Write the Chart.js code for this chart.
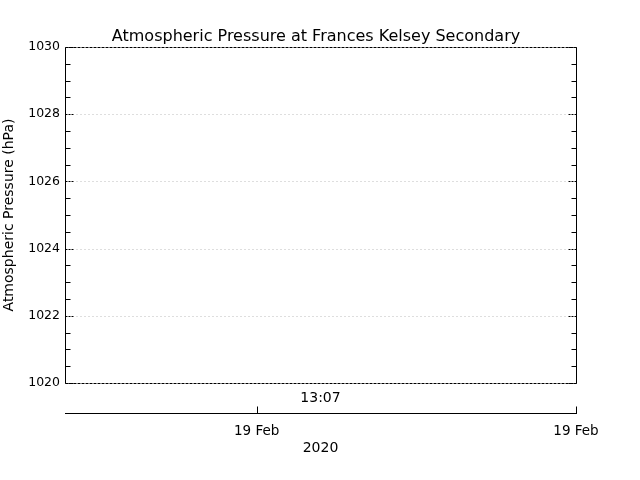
<!DOCTYPE html>
<html>
<head>
<meta charset="utf-8">
<title>Atmospheric Pressure</title>
<script src="https://cdn.jsdelivr.net/npm/chart.js@4.4.1/dist/chart.umd.min.js"></script>
<style>
  html, body { margin: 0; padding: 0; background: #fff; }
  canvas { display: block; }
</style>
</head>
<body>
<canvas id="pressureChart" width="640" height="480"></canvas>
<script>
// Data (the reference plot has no measurements in its window)
const times = [];          // hours relative to 19 Feb 00:00
const pressure = [];       // hPa

// Axis ranges / ticks
const yMin = 1020;
const yMax = 1030;
const yStep = 2;
const yMinorStep = 0.5;
const timeMin = -14.4;
const timeMax = 24;
const dayTicks = [0, 24];
const dayLabels = ['19 Feb', '19 Feb'];
const startLabel = '13:07';
const yearLabel = '2020';

const FONT = 'DejaVu Sans';

// IDL-style frame: dashed top/bottom, ticks inside, dotted grid
const framePlugin = {
    id: 'frame',
    afterDraw(chart) {
        const ctx = chart.ctx;
        const area = chart.chartArea;
        const y = chart.scales.y;
        const x2 = chart.scales.x2;
        const L = Math.round(area.left) + 0.5;
        const R = Math.round(area.right) + 0.5;
        const T = Math.round(area.top) + 0.5;
        const B = Math.round(area.bottom) + 0.5;
        ctx.save();
        ctx.lineWidth = 1;

        // dotted grid lines
        ctx.strokeStyle = '#bdbdbd';
        ctx.setLineDash([1, 3]);
        y.ticks.forEach(t => {
            if (t.value === yMin || t.value === yMax) return;
            const py = Math.round(y.getPixelForValue(t.value)) + 0.5;
            ctx.beginPath();
            ctx.moveTo(L + 11, py);
            ctx.lineTo(R - 9, py);
            ctx.stroke();
        });

        // box
        ctx.strokeStyle = '#000';
        ctx.setLineDash([3, 1]);
        ctx.beginPath();
        ctx.moveTo(L, T); ctx.lineTo(R, T);
        ctx.moveTo(L, B); ctx.lineTo(R, B);
        ctx.stroke();
        ctx.setLineDash([]);
        ctx.beginPath();
        ctx.moveTo(L, T); ctx.lineTo(L, B);
        ctx.moveTo(R, T); ctx.lineTo(R, B);
        ctx.stroke();

        // major ticks (dashed)
        ctx.setLineDash([2, 1]);
        ctx.beginPath();
        y.ticks.forEach(t => {
            const py = Math.round(y.getPixelForValue(t.value)) + 0.5;
            ctx.moveTo(L, py); ctx.lineTo(L + 9, py);
            ctx.moveTo(R, py); ctx.lineTo(R - 9, py);
        });
        ctx.stroke();

        // minor ticks
        ctx.setLineDash([]);
        ctx.beginPath();
        for (let v = yMin + yMinorStep; v < yMax; v += yMinorStep) {
            if (Math.abs((v - yMin) % yStep) < 1e-6) continue;
            const py = Math.round(y.getPixelForValue(v)) + 0.5;
            ctx.moveTo(L, py); ctx.lineTo(L + 5, py);
            ctx.moveTo(R, py); ctx.lineTo(R - 5, py);
        }
        ctx.stroke();

        // date axis ticks, pointing up
        const ay = Math.round(x2.top) + 0.5;
        ctx.beginPath();
        x2.ticks.forEach(t => {
            const px = Math.round(x2.getPixelForValue(t.value)) + 0.5;
            ctx.moveTo(px, ay); ctx.lineTo(px, ay - 7);
        });
        ctx.stroke();
        ctx.restore();
    }
};

const ctx = document.getElementById('pressureChart').getContext('2d');
new Chart(ctx, {
    type: 'line',
    data: {
        datasets: [{
            label: 'Pressure',
            data: times.map((t, i) => ({ x: t, y: pressure[i] })),
            borderColor: '#000',
            borderWidth: 1,
            pointRadius: 0,
            xAxisID: 'x2',
            yAxisID: 'y'
        }]
    },
    options: {
        responsive: false,
        animation: false,
        layout: { padding: { left: 0, right: 8, top: 0, bottom: 0 } },
        plugins: {
            legend: { display: false },
            tooltip: { enabled: false },
            title: {
                display: true,
                text: 'Atmospheric Pressure at Frances Kelsey Secondary',
                color: '#000',
                font: { family: FONT, size: 16, weight: 'normal', lineHeight: 1 },
                padding: { top: 29, bottom: 2 }
            }
        },
        scales: {
            x: {
                type: 'linear',
                position: 'bottom',
                min: timeMin,
                max: timeMax,
                grid: { display: false, drawTicks: false },
                border: { display: false },
                ticks: { display: false },
                title: {
                    display: true,
                    text: startLabel,
                    color: '#000',
                    font: { family: FONT, size: 14, lineHeight: 1 },
                    padding: { top: 0, bottom: 8 }
                },
                afterFit: s => { s.height = 30; }
            },
            x2: {
                type: 'linear',
                position: 'bottom',
                min: timeMin,
                max: timeMax,
                grid: { display: false, drawTicks: false },
                border: { display: true, color: '#000', width: 1 },
                afterBuildTicks: s => { s.ticks = dayTicks.map(v => ({ value: v })); },
                ticks: {
                    color: '#000',
                    font: { family: FONT, size: 13.5 },
                    padding: 10,
                    maxRotation: 0,
                    autoSkip: false,
                    callback: (v, i) => dayLabels[i]
                },
                title: {
                    display: true,
                    text: yearLabel,
                    color: '#000',
                    font: { family: FONT, size: 14, lineHeight: 1 },
                    padding: { top: 0, bottom: 25 }
                },
                afterFit: s => { s.height = 67; }
            },
            y: {
                type: 'linear',
                min: yMin,
                max: yMax,
                grid: { display: false, drawTicks: false },
                border: { display: false },
                ticks: {
                    stepSize: yStep,
                    color: '#000',
                    font: { family: FONT, size: 12.5 },
                    padding: 5,
                    callback: v => String(v)
                },
                title: {
                    display: true,
                    text: 'Atmospheric Pressure (hPa)',
                    color: '#000',
                    font: { family: FONT, size: 14, lineHeight: 1 },
                    padding: { top: 2, bottom: 0 }
                },
                afterFit: s => { s.width = 65; }
            },
            // empty spacer on the right so the title centres like the original
            yr: {
                type: 'linear',
                position: 'right',
                min: yMin,
                max: yMax,
                grid: { display: false, drawTicks: false },
                border: { display: false },
                ticks: { display: false },
                afterFit: s => { s.width = 56; }
            }
        }
    },
    plugins: [framePlugin]
});
</script>
</body>
</html>
